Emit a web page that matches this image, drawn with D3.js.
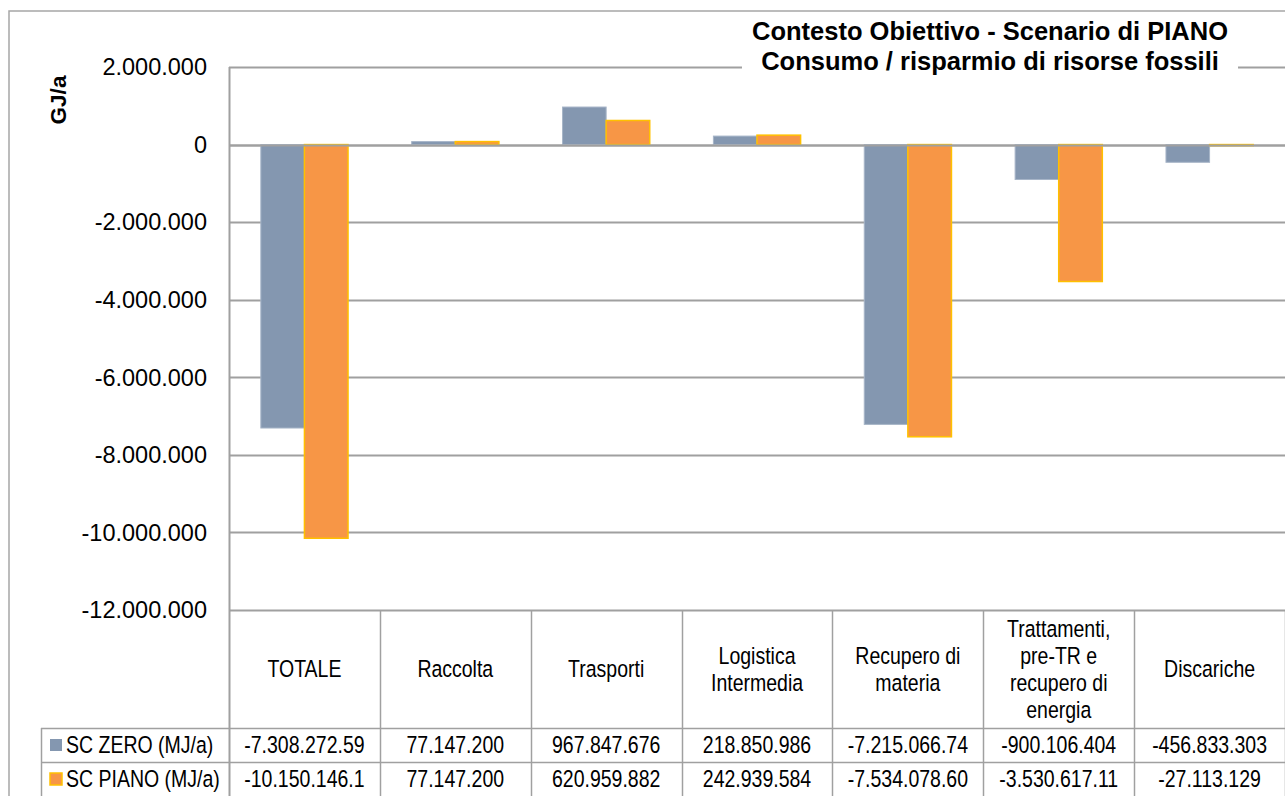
<!DOCTYPE html>
<html>
<head>
<meta charset="utf-8">
<script src="https://cdn.jsdelivr.net/npm/d3@7"></script>
<style>
  body { margin: 0; background: #fff; overflow: hidden; }
  svg { display: block; }
</style>
</head>
<body>
<svg id="chart" width="1285" height="796"></svg>
<script>
// DATA
const categories = ["TOTALE", "Raccolta", "Trasporti", "Logistica Intermedia", "Recupero di materia", "Trattamenti, pre-TR e recupero di energia", "Discariche"];
const category_lines = [["TOTALE"], ["Raccolta"], ["Trasporti"], ["Logistica", "Intermedia"], ["Recupero di", "materia"], ["Trattamenti,", "pre-TR e", "recupero di", "energia"], ["Discariche"]];
const series_names = ["SC ZERO (MJ/a)", "SC PIANO (MJ/a)"];
// plotted in GJ/a
const sc_zero = [-7308272.59, 77147.2, 967847.676, 218850.986, -7215066.74, -900106.404, -456833.303];
const sc_piano = [-10150146.1, 77147.2, 620959.882, 242939.584, -7534078.60, -3530617.11, -27113.129];
// table text as shown in the chart
const sc_zero_labels = ["-7.308.272.59", "77.147.200", "967.847.676", "218.850.986", "-7.215.066.74", "-900.106.404", "-456.833.303"];
const sc_piano_labels = ["-10.150.146.1", "77.147.200", "620.959.882", "242.939.584", "-7.534.078.60", "-3.530.617.11", "-27.113.129"];
const y_ticks = [2000000, 0, -2000000, -4000000, -6000000, -8000000, -10000000, -12000000];

const colors = ["#8497B0", "#F79646"];
const strokes = ["#A7B5C8", "#FFC000"];

const font = "'Liberation Sans', Arial, sans-serif";
const narrow_scale = 0.83; // no narrow font installed, squeeze the regular one

const svg = d3.select("#chart");
const plot_left = 229, plot_right = 1285, plot_top = 67, plot_bottom = 610;

// outer chart border
svg.append("path")
    .attr("d", `M9,796 V11 H1285`)
    .attr("fill", "none").attr("stroke", "#a6a6a6").attr("stroke-width", 1.5);

const y = d3.scaleLinear().domain([-12000000, 2000000]).range([plot_bottom, plot_top]);
const x0 = d3.scaleBand().domain(categories).range([plot_left, plot_right]).padding(0);
const x1 = d3.scaleBand().domain(series_names).range([0, x0.bandwidth()]).paddingInner(0).paddingOuter(0.73);

// gridlines
svg.append("g").selectAll("line")
    .data(y_ticks)
    .join("line")
    .attr("x1", plot_left).attr("x2", plot_right)
    .attr("y1", d => Math.round(y(d)) + 0.5).attr("y2", d => Math.round(y(d)) + 0.5)
    .attr("stroke", "#a0a0a0").attr("stroke-width", 2);

// y axis tick labels
const fmt = v => d3.format(",")(v).replace(/,/g, ".").replace("−", "-");
svg.append("g").selectAll("text")
    .data(y_ticks)
    .join("text")
    .attr("x", 207).attr("y", d => y(d))
    .attr("dy", "0.35em")
    .attr("text-anchor", "end")
    .style("font-family", font).style("font-size", "23.5px").style("fill", "#000")
    .text(d => fmt(d));

// axis title
svg.append("text")
    .attr("transform", "translate(66,100) rotate(-90)")
    .attr("text-anchor", "middle")
    .style("font-family", font).style("font-size", "22.5px").style("font-weight", "bold")
    .text("GJ/a");

// bars
const rows = categories.map((c, i) => ({cat: c, vals: [sc_zero[i], sc_piano[i]]}));
const groups = svg.append("g").selectAll("g")
    .data(rows)
    .join("g")
    .attr("transform", d => `translate(${x0(d.cat)},0)`);

groups.selectAll("rect")
    .data(d => d.vals.map((v, k) => ({key: series_names[k], v, k})))
    .join("rect")
    .attr("x", d => x1(d.key))
    .attr("width", x1.bandwidth())
    .attr("y", d => y(Math.max(0, d.v)))
    .attr("height", d => Math.abs(y(d.v) - y(0)))
    .attr("fill", d => colors[d.k])
    .attr("stroke", d => strokes[d.k])
    .attr("stroke-width", d => d.k === 1 ? 1.5 : 1);

// zero line over bars
svg.append("line")
    .attr("x1", plot_left).attr("x2", plot_right)
    .attr("y1", Math.round(y(0)) + 0.5).attr("y2", Math.round(y(0)) + 0.5)
    .attr("stroke", "#a0a0a0").attr("stroke-width", 2);

// data table
const headBottom = 728, rowH = 34;
const grid = svg.append("g").attr("stroke", "#a0a0a0").attr("stroke-width", 1.5).attr("fill", "none");
grid.selectAll("line.v")
    .data([plot_left, ...categories.map(c => x0(c) + x0.bandwidth())])
    .join("line")
    .attr("x1", d => Math.round(d) + 0.5).attr("x2", d => Math.round(d) + 0.5)
    .attr("y1", (d, i) => i === 0 ? plot_top : plot_bottom).attr("y2", 796)
    .attr("stroke-width", (d, i) => i === 0 ? 2 : 1.5);
grid.selectAll("line.h")
    .data([headBottom, headBottom + rowH])
    .join("line")
    .attr("x1", 41).attr("x2", plot_right)
    .attr("y1", d => d + 0.5).attr("y2", d => d + 0.5);
grid.append("line")
    .attr("x1", 41.5).attr("x2", 41.5).attr("y1", headBottom).attr("y2", 796);

// narrow text helper
function narrowText(g, x, yy, str, anchor) {
    return g.append("text")
        .attr("transform", `translate(${x},${yy}) scale(${narrow_scale},1)`)
        .attr("dy", "0.35em")
        .attr("text-anchor", anchor)
        .style("font-family", font).style("font-size", "23.5px").style("fill", "#000")
        .text(str);
}

// category headers
const headMid = (plot_bottom + headBottom) / 2;
const lineH = 27;
const headG = svg.append("g");
categories.forEach((c, i) => {
    const lines = category_lines[i];
    const cx = x0(c) + x0.bandwidth() / 2;
    lines.forEach((l, j) => {
        narrowText(headG, cx, headMid + (j - (lines.length - 1) / 2) * lineH, l, "middle");
    });
});

// values rows + legend
const labelRows = [sc_zero_labels, sc_piano_labels];
labelRows.forEach((labels, r) => {
    const cy = headBottom + rowH * r + rowH / 2;
    const g = svg.append("g");
    labels.forEach((d, i) => {
        narrowText(g, x0(categories[i]) + x0.bandwidth() / 2, cy, d, "middle");
    });

    svg.append("rect")
        .attr("x", 50).attr("y", cy - 6).attr("width", 12).attr("height", 12)
        .attr("fill", colors[r])
        .attr("stroke", r === 1 ? strokes[r] : "none").attr("stroke-width", 1.5);
    narrowText(g, 66, cy, series_names[r], "start");
});

// title, white box covers gridline
const title = svg.append("g");
const titleBg = title.append("rect").attr("fill", "#fff");
const tt = title.append("text")
    .attr("text-anchor", "middle")
    .style("font-family", font).style("font-size", "25.5px").style("font-weight", "bold");
tt.append("tspan").attr("x", 990).attr("y", 40).text("Contesto Obiettivo - Scenario di PIANO");
tt.append("tspan").attr("x", 990).attr("y", 70).text("Consumo / risparmio di risorse fossili");
const bb = tt.node().getBBox();
titleBg.attr("x", bb.x - 10).attr("y", 13).attr("width", bb.width + 20).attr("height", bb.y + bb.height - 13 + 4);
</script>
</body>
</html>
